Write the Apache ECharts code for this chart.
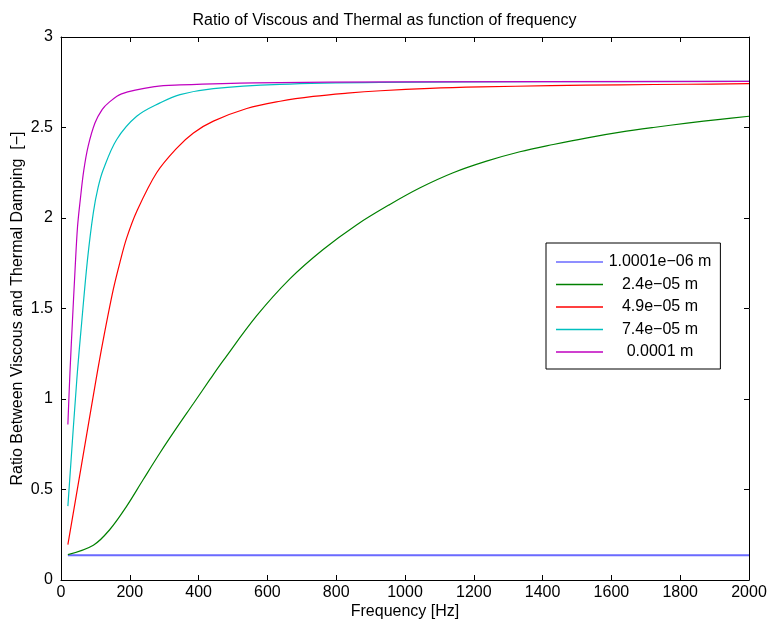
<!DOCTYPE html>
<html>
<head>
<meta charset="utf-8">
<script src="https://cdn.jsdelivr.net/npm/echarts@6/dist/echarts.min.js"></script>
<style>html,body{margin:0;padding:0;background:#fff}#c{width:769px;height:626px}</style>
</head>
<body>
<div id="c"></div>
<script>
const titleText = 'Ratio of Viscous and Thermal as function of frequency';
const xName = 'Frequency [Hz]';
const yName = 'Ratio Between Viscous and Thermal Damping  [\u2212]';
const seriesNames = ['1.0001e\u221206 m', '2.4e\u221205 m', '4.9e\u221205 m', '7.4e\u221205 m', '0.0001 m'];

const blueX = [20, 500, 1000, 1500, 2000];
const blueY = [0.137, 0.137, 0.137, 0.137, 0.137];

const greenX = [20, 94, 142, 191, 239, 288, 336, 385, 433, 472, 569, 666, 762, 859, 956, 1044, 1140, 1237, 1334, 1431, 1530, 1626, 1722, 1820, 1916, 2000];
const greenY = [0.14, 0.192, 0.279, 0.408, 0.555, 0.703, 0.84, 0.975, 1.108, 1.213, 1.46, 1.665, 1.826, 1.962, 2.075, 2.167, 2.25, 2.314, 2.366, 2.406, 2.443, 2.474, 2.5, 2.524, 2.545, 2.562];

const redX = [20, 60, 102, 123, 152, 172, 191, 221, 278, 336, 385, 443, 540, 637, 733, 832, 929, 1073, 1220, 1424, 1628, 1820, 2000];
const redY = [0.196, 0.64, 1.108, 1.329, 1.605, 1.76, 1.89, 2.04, 2.25, 2.385, 2.47, 2.535, 2.605, 2.645, 2.672, 2.69, 2.703, 2.716, 2.724, 2.731, 2.736, 2.739, 2.742];

const cyanX = [20, 46, 60, 77, 94, 108, 123, 162, 220, 288, 346, 443, 637, 927, 1400, 2000];
const cyanY = [0.408, 1.108, 1.42, 1.77, 2.03, 2.17, 2.268, 2.434, 2.562, 2.636, 2.682, 2.715, 2.738, 2.749, 2.753, 2.755];

const magX = [20, 26, 33, 41, 48, 56, 66, 79, 99, 120, 138, 176, 273, 346, 564, 1000, 2000];
const magY = [0.859, 1.145, 1.42, 1.72, 1.95, 2.1, 2.26, 2.397, 2.526, 2.6, 2.636, 2.686, 2.726, 2.735, 2.747, 2.752, 2.755];

const colors = ['#6a6aff', '#008000', '#ff0000', '#00bfbf', '#bf00bf'];
const widths = [2, 1.2, 1.2, 1.2, 1.2];

const xs = [blueX, greenX, redX, cyanX, magX];
const ys = [blueY, greenY, redY, cyanY, magY];

const FONT = 'Liberation Sans, Arial, Helvetica, sans-serif';
const LINE_ICON = 'path://M0,0 L47,0 L47,1.3 L0,1.3 Z';

const chart = echarts.init(document.getElementById('c'), null, {renderer: 'canvas'});

const series = seriesNames.map((n, i) => ({
  name: n,
  type: 'line',
  xAxisIndex: 0,
  yAxisIndex: 0,
  symbol: 'none',
  showSymbol: false,
  smooth: 0.35,
  color: colors[i],
  lineStyle: {color: colors[i], width: widths[i]},
  data: xs[i].map((x, k) => [x, ys[i][k]]),
  z: 2 + i
}));

const axisCommon = {
  type: 'value',
  axisLine: {show: true, onZero: false, lineStyle: {color: '#000', width: 1}},
  axisTick: {show: true, inside: true, length: 5, lineStyle: {color: '#000'}},
  splitLine: {show: false},
  axisLabel: {color: '#000', fontFamily: FONT, fontSize: 16, formatter: v => String(v)}
};

chart.setOption({
  animation: false,
  backgroundColor: '#fff',
  title: {
    text: titleText,
    left: 'center',
    top: 8,
    textStyle: {fontFamily: FONT, fontSize: 16, fontWeight: 'normal', color: '#000'}
  },
  grid: {left: 61, right: 20, top: 37, bottom: 46, containLabel: false, outerBoundsMode: 'none'},
  legend: {
    orient: 'vertical',
    left: 546,
    top: 243,
    padding: [11, 9, 9, 10],
    itemGap: 6.5,
    itemWidth: 47,
    itemHeight: 16,
    icon: LINE_ICON,
    borderColor: '#000',
    borderWidth: 1,
    backgroundColor: '#fff',
    data: seriesNames.map((n, i) => ({name: n, icon: LINE_ICON, itemStyle: {color: colors[i]}})),
    formatter: function (n) { return '{a|' + n + '}'; },
    textStyle: {
      fontFamily: FONT, fontSize: 16, color: '#000',
      rich: {a: {width: 104, align: 'center', fontFamily: FONT, fontSize: 16, color: '#000'}}
    }
  },
  xAxis: [
    Object.assign({}, axisCommon, {
      min: 0, max: 2000, interval: 200, position: 'bottom',
      name: xName, nameLocation: 'middle', nameGap: 24, nameMoveOverlap: false,
      nameTextStyle: {fontFamily: FONT, fontSize: 16, color: '#000'},
      axisLabel: Object.assign({}, axisCommon.axisLabel, {margin: 5})
    }),
    Object.assign({}, axisCommon, {
      min: 0, max: 2000, interval: 200, position: 'top',
      axisLabel: {show: false}
    })
  ],
  yAxis: [
    Object.assign({}, axisCommon, {
      min: 0, max: 3, interval: 0.5, position: 'left',
      name: yName, nameLocation: 'middle', nameGap: 35, nameMoveOverlap: false,
      nameTextStyle: {fontFamily: FONT, fontSize: 16, color: '#000'},
      axisLabel: Object.assign({}, axisCommon.axisLabel, {margin: 8})
    }),
    Object.assign({}, axisCommon, {
      min: 0, max: 3, interval: 0.5, position: 'right',
      axisLabel: {show: false}
    })
  ],
  series: series
});
</script>
</body>
</html>
